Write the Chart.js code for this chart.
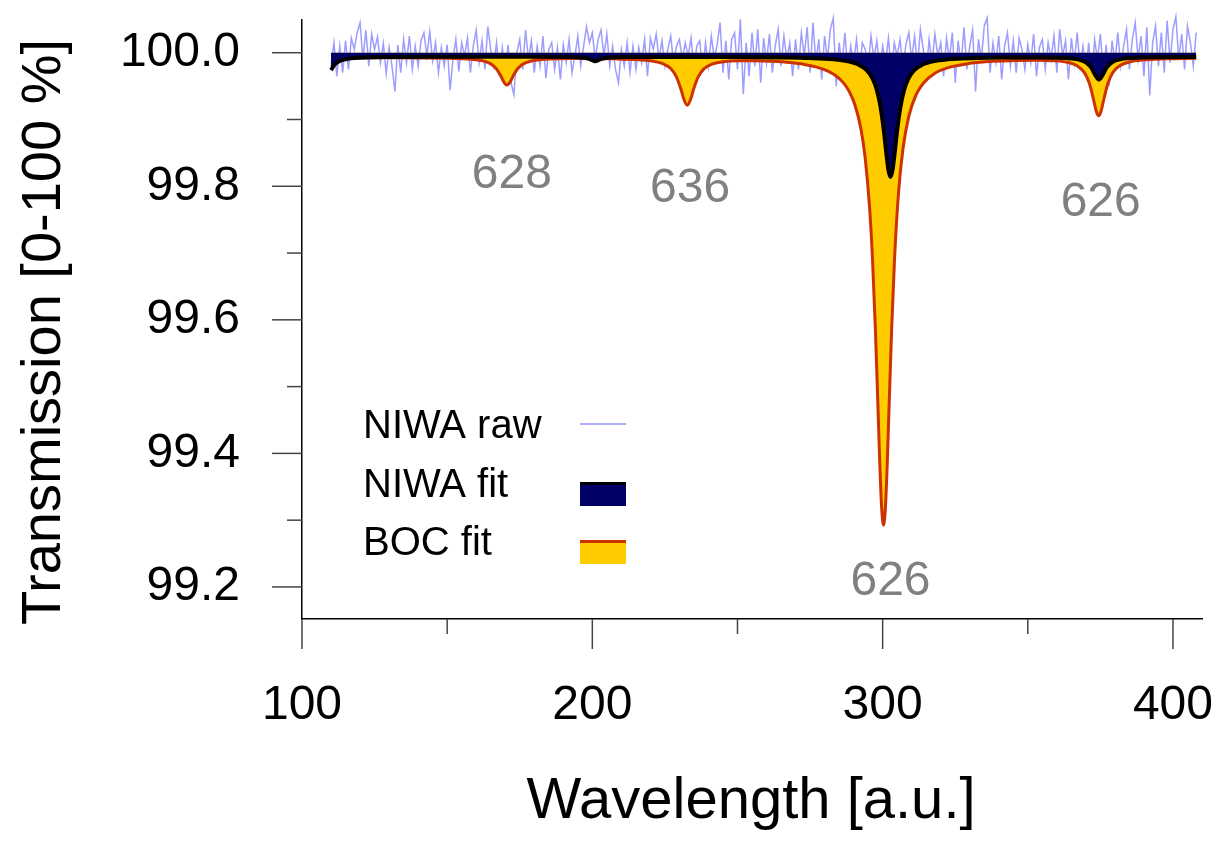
<!DOCTYPE html>
<html>
<head>
<meta charset="utf-8">
<script src="https://cdn.jsdelivr.net/npm/chart.js@4.4.1/dist/chart.umd.min.js"></script>
<style>
  html, body { margin: 0; padding: 0; background: #fff; }
  canvas { display: block; }
</style>
</head>
<body>
<canvas id="valuesChart" width="1230" height="849"></canvas>
<script>
// ---- data ----
// NIWA raw: one value per wavelength unit starting at 110,
// stored as offsets from 100 % in thousandths of a percent
const rawStart = 110
const rawOffsets = [
  -20, 15, -35, 10, -30, 18, -25, 22, 5, 30,
  45, -10, 34, -20, 28, 5, 24, -15, 14, -31,
  8, -20, -58, 12, -30, 20, -15, 25, -25, 10,
  -20, 18, 30, -5, 32, -12, 15, -30, 8, -20,
  12, -56, -10, 20, -28, 15, -5, 22, -30, 10,
  34, -15, 18, -25, 39, 5, -20, 15, -35, 8,
  -30, 12, -45, -63, 0, 20, -25, 34, -10, 18,
  -30, 10, -20, 25, -38, 5, 15, -25, 8, -40,
  12, -15, 20, -30, -5, 25, -20, 10, 39, 15,
  30, -10, 20, 34, -5, 28, -20, 10, -25, -45,
  5, -20, 15, -30, 10, -25, 8, -15, 20, -35,
  22, 5, 28, -10, 18, -20, 5, 25, -15, 10,
  20, -10, 15, -5, 22, -25, 10, 18, -30, 15,
  -20, 25, -8, 12, 45, -30, 18, -40, 20, 30,
  -25, 50, -62, 15, -35, 30, -20, 35, -45, 22,
  -15, 28, -30, 10, 35, -20, 25, -10, 15, -35,
  20, -25, 30, -5, 38, -30, 45, -15, 20, -40,
  25, -10, 35, 52, -50, 15, -20, 30, -25, 10,
  -15, 20, -30, 15, 5, -20, 25, -10, 18, -25,
  10, -15, 22, -30, 15, -5, 20, -25, 12, 30,
  -10, 25, -20, 35, 5, -30, 20, -15, 28, -5,
  15, -35, 22, -10, 30, -45, 18, -20, 38, -25,
  10, 34, -58, 20, -10, 40, 52, -30, 15, -15,
  25, -40, 10, 30, -20, 18, -30, 22, 5, -25,
  12, -15, 28, -35, 8, 20, -25, 15, -10, 25,
  -30, 35, -5, 18, -40, 22, -15, 30, -20, 10,
  -25, 15, -45, 20, -10, 28, -30, 12, -50, 18,
  -15, 30, -20, 10, 35, -25, 20, 45, -10, 25,
  -35, 38, -64, 15, 40, -20, 30, -30, 48, -15,
  35, 54, -10, 28, -25, 40, 15, -20, 30
]

// NIWA fit curve
const niwaFitX = [110, 111, 112, 113.5, 115, 118, 122, 130, 150, 180, 192, 196, 198.5, 200, 201, 202, 203.5, 206, 212,
  230, 250, 265, 275, 283, 288, 291.5, 294.5, 296.5, 298, 299.3, 300.4, 301.3, 302, 302.7, 303.4, 304.1, 305, 306.1,
  307.4, 308.9, 310.9, 313.9, 317.4, 322.4, 330.4, 342, 355, 363, 367.5, 370, 371.8, 373.2, 374.5, 375.8, 377.2,
  379, 381.5, 386, 395, 408]
const niwaFitY = [99.974, 99.981, 99.985, 99.9884, 99.9902, 99.9919, 99.9929, 99.9935, 99.9938, 99.9938, 99.9935,
  99.9929, 99.9913, 99.9887, 99.9874, 99.9887, 99.9913, 99.9929, 99.9936,
  99.9937, 99.9935, 99.9929, 99.992, 99.9902, 99.9873, 99.9827, 99.974, 99.9617, 99.9444, 99.9181, 99.8835, 99.848,
  99.824, 99.814, 99.824, 99.848, 99.8835, 99.9181,
  99.9444, 99.9617, 99.974, 99.9827, 99.9873, 99.9901, 99.9919, 99.9928, 99.9929, 99.992, 99.9898, 99.9856, 99.978,
  99.9669, 99.9597, 99.9669, 99.978,
  99.9857, 99.9899, 99.9922, 99.9933, 99.9936]

// BOC fit curve
const bocFitX = [110, 120, 130, 140, 150, 155, 160, 163, 165, 167, 168.5, 169.5, 170.6, 171.7, 172.7, 174, 176, 178,
  181, 186, 192, 200, 208, 215, 220, 224, 227, 229, 230.5, 231.6, 232.7, 233.8, 234.9, 236.5, 238.5, 241, 245, 250,
  256, 262, 268, 273, 277, 281, 284, 286.5, 288.5, 290.5, 292.5, 294, 295.5, 296.5, 297.5, 298.3, 299, 299.6, 300.3,
  301, 301.6, 302.3, 303.1, 304.1, 305.5, 307, 309, 311.5, 314, 318, 323, 330, 338, 346, 353, 359, 364, 367, 369.5,
  371.2, 372.6, 373.6, 374.4, 375.2, 376.2, 377.6, 379.3, 381.5, 385, 390, 397, 408]
const bocFitY = [99.9926, 99.9926, 99.9925, 99.9922, 99.9917, 99.9911, 99.9895, 99.987, 99.9833, 99.9757, 99.965,
  99.9563, 99.9515, 99.9563, 99.965, 99.9745, 99.9827, 99.9865,
  99.9891, 99.9906, 99.9912, 99.9912, 99.9908, 99.9898, 99.988, 99.9841, 99.9763, 99.9636, 99.9458, 99.9296, 99.9213,
  99.9295, 99.9456, 99.9641, 99.9761, 99.9827, 99.9865, 99.9879,
  99.9879, 99.9871, 99.9852, 99.9825, 99.9788, 99.9728, 99.9651, 99.9549, 99.942, 99.9214, 99.8865, 99.8418, 99.7683,
  99.6918, 99.586, 99.481, 99.387, 99.323, 99.2927,
  99.323, 99.387, 99.481, 99.586, 99.692, 99.792, 99.856, 99.9048, 99.9368, 99.9543, 99.9693, 99.9782, 99.9841,
  99.9872, 99.9885, 99.9888, 99.988, 99.9853, 99.9805, 99.9702,
  99.9542, 99.9306, 99.912, 99.9055, 99.9121, 99.9307, 99.9543, 99.9705, 99.9802, 99.9862, 99.9893, 99.9908, 99.9917]

// axes
const xMajorTicks = [100, 200, 300, 400]
const xMinorTicks = [150, 250, 350]
const yMajorTicks = [99.2, 99.4, 99.6, 99.8, 100.0]
const yMinorTicks = [99.3, 99.5, 99.7, 99.9]

// peak labels
const peakLabels = ['628', '636', '626', '626']
const peakLabelX = [172.3, 233.7, 302.7, 375.1]
const peakLabelY = [99.7975, 99.7765, 99.188, 99.7555]

const legendNames = ['NIWA raw', 'NIWA fit', 'BOC fit']

const FONT = "'Liberation Sans', Arial, sans-serif"

function toPoints(xs, ys) {
  return xs.map((x, i) => ({ x: x, y: ys[i] }))
}

const rawPoints = rawOffsets.map((v, i) => ({ x: rawStart + i, y: 100 + v / 1000 }))

//Drawing ticks, tick labels, titles, legend and peak labels
const decorPlugin = {
  id: 'decor',
  afterDraw(chart) {
    const { ctx, chartArea, scales } = chart
    const xs = scales.x
    const ys = scales.y
    ctx.save()

    ctx.strokeStyle = '#444'
    ctx.lineWidth = 1.5
    const seg = (x1, y1, x2, y2) => {
      ctx.beginPath(); ctx.moveTo(x1, y1); ctx.lineTo(x2, y2); ctx.stroke()
    }
    yMajorTicks.forEach(v => { const p = ys.getPixelForValue(v); seg(chartArea.left - 30, p, chartArea.left, p) })
    yMinorTicks.forEach(v => { const p = ys.getPixelForValue(v); seg(chartArea.left - 15, p, chartArea.left, p) })
    xMajorTicks.forEach(v => { const p = xs.getPixelForValue(v); seg(p, chartArea.bottom, p, chartArea.bottom + 30) })
    xMinorTicks.forEach(v => { const p = xs.getPixelForValue(v); seg(p, chartArea.bottom, p, chartArea.bottom + 15) })

    // tick labels
    ctx.fillStyle = '#000'
    ctx.font = '48px ' + FONT
    ctx.textBaseline = 'middle'
    ctx.textAlign = 'right'
    yMajorTicks.forEach(v => ctx.fillText(v.toFixed(1), chartArea.left - 62, ys.getPixelForValue(v)))
    ctx.textAlign = 'center'
    xMajorTicks.forEach(v => ctx.fillText(String(v), xs.getPixelForValue(v), chartArea.bottom + 87))

    // axis titles
    ctx.textBaseline = 'alphabetic'
    ctx.font = '58px ' + FONT
    ctx.fillText('Wavelength [a.u.]', 751, 818)
    ctx.save()
    ctx.translate(60, 332)
    ctx.rotate(-Math.PI / 2)
    ctx.font = '56px ' + FONT
    ctx.fillText('Transmission [0-100 %]', 0, 0)
    ctx.restore()

    // peak labels
    ctx.fillStyle = '#808080'
    ctx.font = '48px ' + FONT
    peakLabels.forEach((t, i) => {
      ctx.fillText(t, xs.getPixelForValue(peakLabelX[i]), ys.getPixelForValue(peakLabelY[i]))
    })

    // legend
    ctx.textAlign = 'left'
    ctx.fillStyle = '#000'
    ctx.font = '40px ' + FONT
    const base = [438, 497, 555]
    legendNames.forEach((t, i) => ctx.fillText(t, 363, base[i]))

    ctx.strokeStyle = 'rgba(110,110,255,0.75)'
    ctx.lineWidth = 1.5
    seg(580, 424, 626, 424)

    ctx.fillStyle = '#000066'
    ctx.fillRect(580, 482, 46, 24)
    ctx.strokeStyle = '#000'
    ctx.lineWidth = 3
    seg(580, 483.5, 626, 483.5)

    ctx.fillStyle = '#ffcc00'
    ctx.fillRect(580, 540, 46, 24)
    ctx.strokeStyle = '#cc3300'
    seg(580, 541.5, 626, 541.5)

    ctx.restore()
  }
}

const ctx = document.getElementById('valuesChart')

new Chart(ctx, {
  type: 'line',
  data: {
    datasets: [
      {
        label: 'NIWA fit',
        data: toPoints(niwaFitX, niwaFitY),
        borderColor: '#000000',
        borderWidth: 4,
        backgroundColor: '#000066',
        fill: { value: 100 },
        pointRadius: 0,
        cubicInterpolationMode: 'monotone',
        order: 1
      },
      {
        label: 'BOC fit',
        data: toPoints(bocFitX, bocFitY),
        borderColor: '#cc3300',
        borderWidth: 3,
        backgroundColor: '#ffcc00',
        fill: { value: 100 },
        pointRadius: 0,
        cubicInterpolationMode: 'monotone',
        order: 2
      },
      {
        label: 'NIWA raw',
        data: rawPoints,
        borderColor: 'rgba(115,115,255,0.7)',
        borderWidth: 1.5,
        fill: false,
        pointRadius: 0,
        tension: 0,
        clip: false,
        order: 3
      }
    ]
  },
  options: {
    responsive: false,
    animation: false,
    layout: { padding: { top: 20, right: 28, left: 0, bottom: 0 } },
    plugins: {
      legend: { display: false },
      tooltip: { enabled: false }
    },
    scales: {
      x: {
        type: 'linear',
        min: 100,
        max: 410,
        afterFit: s => { s.height = 230; s.paddingLeft = 0; s.paddingRight = 0 },
        grid: { display: false, drawTicks: false, tickLength: 0 },
        border: { display: true, color: '#000', width: 1.5 },
        ticks: { display: false }
      },
      y: {
        type: 'linear',
        min: 99.152,
        max: 100.049,
        afterFit: s => { s.width = 302; s.paddingTop = 0; s.paddingBottom = 0 },
        grid: { display: false, drawTicks: false, tickLength: 0 },
        border: { display: true, color: '#000', width: 1.5 },
        ticks: { display: false }
      }
    }
  },
  plugins: [decorPlugin]
})
</script>
</body>
</html>
